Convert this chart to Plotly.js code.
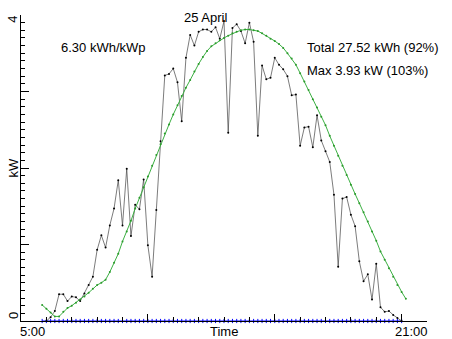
<!DOCTYPE html>
<html>
<head>
<meta charset="utf-8">
<script src="https://cdn.plot.ly/plotly-3.0.1.min.js"></script>
<style>html,body{margin:0;padding:0;background:#fff;}#chart{width:452px;height:339px;}</style>
</head>
<body>
<div id="chart"></div>
<script>
// Measured power (kW), 10-minute samples from 6:00 to 20:00
const measuredStart = 6.0;
const measuredKW = [
 0, 0.05, 0.13, 0.35, 0.35, 0.26, 0.32, 0.31, 0.26, 0.36,
 0.47, 0.58, 0.93, 1.12, 0.96, 1.25, 1.47, 1.84, 1.25, 1.99,
 1.11, 1.52, 1.46, 1.85, 0.99, 0.58, 1.45, 2.35, 3.21, 3.23,
 3.30, 3.12, 2.61, 3.44, 3.74, 3.60, 3.78, 3.81, 3.81, 3.78,
 3.84, 3.69, 3.92, 2.46, 3.83, 3.88, 3.79, 3.63, 3.90, 3.65,
 2.42, 3.34, 3.16, 3.18, 3.44, 3.35, 3.29, 3.20, 2.95, 2.96,
 2.29, 2.53, 2.54, 2.27, 2.69, 2.36, 2.22, 2.08, 1.65, 0.71,
 1.60, 1.62, 1.39, 1.24, 0.78, 0.52, 0.61, 0.28, 0.75, 0.18,
 0.12, 0.13, 0.08, 0.04, 0
];
// Expected clear-sky power (kW), 10-minute samples from 5:50 to 20:10
const expectedStart = 5 + 50/60;
const expectedKW = [
 0.21, 0.16, 0.11, 0.06, 0.06, 0.12, 0.17, 0.20, 0.24, 0.28,
 0.32, 0.37, 0.42, 0.47, 0.50, 0.54, 0.64, 0.76, 0.88, 1.04,
 1.17, 1.31, 1.47, 1.61, 1.75, 1.89, 2.03, 2.17, 2.31, 2.45,
 2.57, 2.70, 2.82, 2.94, 3.05, 3.15, 3.26, 3.36, 3.45, 3.53,
 3.59, 3.63, 3.67, 3.70, 3.73, 3.76, 3.78, 3.80, 3.81, 3.81,
 3.80, 3.79, 3.76, 3.73, 3.69, 3.66, 3.62, 3.57, 3.50, 3.43,
 3.35, 3.24, 3.13, 3.02, 2.90, 2.79, 2.67, 2.56, 2.42, 2.29,
 2.16, 2.03, 1.91, 1.78, 1.66, 1.54, 1.42, 1.30, 1.17, 1.05,
 0.91, 0.80, 0.69, 0.58, 0.47, 0.38, 0.29
];
// Baseline series (kW), 10-minute samples from 5:50 to 20:00
const baselineStart = 5 + 50/60;
const baselineKW = [
 0,0,0,0,0,0,0,0,0,0, 0,0,0,0,0,0,0,0,0,0,
 0,0,0,0,0,0,0,0,0,0, 0,0,0,0,0,0,0,0,0,0,
 0,0,0,0,0,0,0,0,0,0, 0,0,0,0,0,0,0,0,0,0,
 0,0,0,0,0,0,0,0,0,0, 0,0,0,0,0,0,0,0,0,0,
 0,0,0,0,0,0
];
const stepHours = 10/60;
const xTickLabels = ["5:00", "21:00"];
const yTickLabels = ["0", "4"];
const titleText = "25 April";
const yieldText = "6.30 kWh/kWp";
const totalText = "Total 27.52 kWh (92%)";
const maxText = "Max 3.93 kW (103%)";

const times = (start, arr) => arr.map((_, i) => start + i * stepHours);

const FONT = "'Liberation Sans', Arial, Helvetica, sans-serif";
const L = 21, R = 427, T = 15, B = 321;
const px = x => (x - L) / (R - L);
const py = y => (B - y) / (B - T);

const traces = [
  {x: times(baselineStart, baselineKW), y: baselineKW, mode: 'lines+markers',
   line: {color: '#0000ff', width: 1}, marker: {color: '#0000ff', size: 3, symbol: 'line-ns', line: {color: '#0000ff', width: 1}},
   cliponaxis: false, hoverinfo: 'skip'},
  {x: times(measuredStart, measuredKW), y: measuredKW, mode: 'lines+markers',
   line: {color: '#444', width: 0.7}, marker: {color: '#000', size: 2}, hoverinfo: 'skip', cliponaxis: false},
  {x: times(expectedStart, expectedKW), y: expectedKW, mode: 'lines+markers',
   line: {color: '#3cb043', width: 1}, marker: {color: '#2a9a2a', size: 2}, hoverinfo: 'skip', cliponaxis: false}
];

const ann = (text, x, y, opts) => Object.assign({
  text, xref: 'paper', yref: 'paper', x: px(x), y: py(y), showarrow: false,
  xanchor: 'center', yanchor: 'middle', font: {family: FONT, size: 13, color: '#000'}
}, opts || {});

const layout = {
  width: 452, height: 339,
  margin: {l: L, r: 452 - R, t: T, b: 339 - B, pad: 0},
  paper_bgcolor: '#fff', plot_bgcolor: '#fff',
  showlegend: false,
  xaxis: {range: [5, 21], showgrid: false, zeroline: false, showline: true, linecolor: '#000', linewidth: 1,
          ticks: 'inside', tick0: 5, dtick: 5, ticklen: 7, tickcolor: '#000', tickwidth: 1, showticklabels: false,
          minor: {ticks: 'inside', dtick: 1, ticklen: 4, tickcolor: '#000', tickwidth: 1}},
  yaxis: {range: [0, 4], showgrid: false, zeroline: false, showline: true, linecolor: '#000', linewidth: 1,
          ticks: 'inside', tick0: 0, dtick: 1, ticklen: 8, tickcolor: '#000', tickwidth: 1, showticklabels: false,
          minor: {ticks: 'inside', dtick: 0.1, ticklen: 4, tickcolor: '#000', tickwidth: 1}},
  annotations: [
    ann(titleText, 205, 18),
    ann(yieldText, 103, 48),
    ann(totalText, 305, 48, {xanchor: 'left'}),
    ann(maxText, 305, 70, {xanchor: 'left'}),
    ann(xTickLabels[0], 32.5, 331),
    ann(xTickLabels[1], 411, 331),
    ann('Time', 224, 331),
    ann('kW', 12.5, 168, {textangle: -90}),
    ann(yTickLabels[1], 12.7, 19, {textangle: -90}),
    ann(yTickLabels[0], 13, 316, {textangle: -90})
  ]
};

Plotly.newPlot('chart', traces, layout, {staticPlot: true, displayModeBar: false});
</script>
</body>
</html>
